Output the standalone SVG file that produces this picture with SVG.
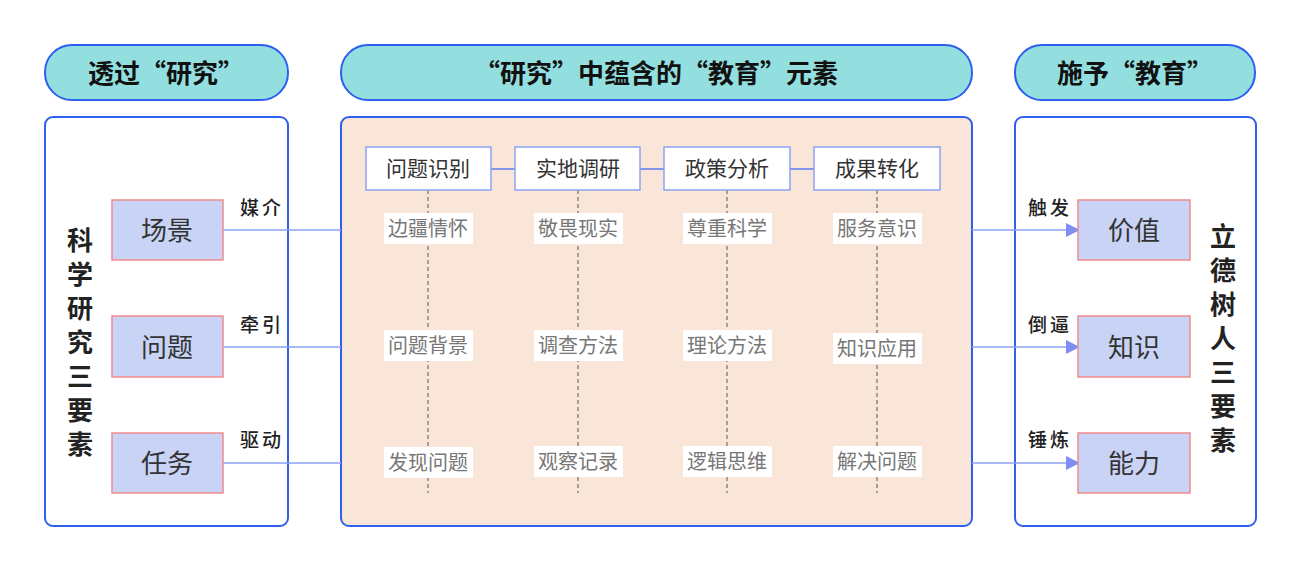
<svg xmlns="http://www.w3.org/2000/svg" width="1302" height="572" viewBox="0 0 1302 572">
<defs>
<style>
.hdr{fill:#93DFE0;stroke:#2F5FEF;stroke-width:2}
.panel{stroke:#2F5FEF;stroke-width:2}
.htxt{font-family:"Noto Sans CJK SC",sans-serif;font-weight:bold;font-size:26px;fill:#111;text-anchor:middle}
.node{fill:#C9D3F6;stroke:#F08C8C;stroke-width:1.5}
.ntxt{font-family:"Noto Sans CJK SC",sans-serif;font-size:26px;fill:#333;text-anchor:middle}
.top{fill:#fff;stroke:#8CA2F2;stroke-width:1.5}
.ttxt{font-family:"Noto Sans CJK SC",sans-serif;font-size:21px;fill:#333;text-anchor:middle}
.sub{font-family:"Noto Sans CJK SC",sans-serif;font-size:20px;fill:#777;text-anchor:middle}
.lbl{font-family:"Noto Sans CJK SC",sans-serif;font-weight:500;font-size:19px;fill:#222;text-anchor:middle;letter-spacing:3px}
.vtxt{font-family:"Noto Sans CJK SC",sans-serif;font-weight:bold;font-size:26px;fill:#222;writing-mode:vertical-rl;letter-spacing:8px}
.conn{stroke:#8DA0F5;stroke-width:1.5;fill:none}
.dash{stroke:#888;stroke-width:1.5;stroke-dasharray:4 3;fill:none}
</style>
<marker id="arr" viewBox="0 0 10 10" refX="10" refY="5" markerWidth="18" markerHeight="14" markerUnits="userSpaceOnUse" orient="auto">
<path d="M0,0 L10,5 L0,10 z" fill="#7F8EF2"/>
</marker>
</defs>
<rect width="1302" height="572" fill="#fff"/>

<g id="headers">
<rect class="hdr" x="45" y="45" width="243" height="55" rx="27"/>
<text class="htxt" x="166" y="83">透过“研究”</text>
<rect class="hdr" x="341" y="45" width="631" height="55" rx="27"/>
<text class="htxt" x="656" y="83">“研究”中蕴含的“教育”元素</text>
<rect class="hdr" x="1015" y="45" width="240" height="55" rx="27"/>
<text class="htxt" x="1135" y="83">施予“教育”</text>
</g>

<g id="panels">
<rect class="panel" x="45" y="117" width="243" height="409" rx="8" fill="#fff"/>
<rect class="panel" x="341" y="117" width="631" height="409" rx="8" fill="#FAE6D8"/>
<rect class="panel" x="1015" y="117" width="241" height="409" rx="8" fill="#fff"/>
</g>

<g id="connectors">
<line class="conn" x1="223" y1="230" x2="341" y2="230"/>
<line class="conn" x1="223" y1="347" x2="341" y2="347"/>
<line class="conn" x1="223" y1="463" x2="341" y2="463"/>
<line class="conn" x1="972" y1="230" x2="1080" y2="230" marker-end="url(#arr)"/>
<line class="conn" x1="972" y1="347" x2="1080" y2="347" marker-end="url(#arr)"/>
<line class="conn" x1="972" y1="463" x2="1080" y2="463" marker-end="url(#arr)"/>
<line x1="491" y1="169" x2="515" y2="169" stroke="#5B7BEF" stroke-width="1.5"/>
<line x1="640" y1="169" x2="664" y2="169" stroke="#5B7BEF" stroke-width="1.5"/>
<line x1="790" y1="169" x2="814" y2="169" stroke="#5B7BEF" stroke-width="1.5"/>
<line class="dash" x1="428" y1="190" x2="428" y2="493"/>
<line class="dash" x1="578" y1="190" x2="578" y2="493"/>
<line class="dash" x1="727" y1="190" x2="727" y2="493"/>
<line class="dash" x1="877" y1="190" x2="877" y2="493"/>
</g>

<g id="conn-labels">
<text class="lbl" x="262" y="215">媒介</text>
<text class="lbl" x="262" y="332">牵引</text>
<text class="lbl" x="262" y="447">驱动</text>
<text class="lbl" x="1050" y="215">触发</text>
<text class="lbl" x="1050" y="332">倒逼</text>
<text class="lbl" x="1050" y="447">锤炼</text>
</g>

<g id="left-title"><text class="vtxt" x="80" y="227">科学研究三要素</text></g>
<g id="right-title"><text class="vtxt" x="1223" y="223">立德树人三要素</text></g>

<g id="node-changjing"><rect class="node" x="112" y="200" width="111" height="60"/><text class="ntxt" x="167" y="240">场景</text></g>
<g id="node-wenti"><rect class="node" x="112" y="316" width="111" height="61"/><text class="ntxt" x="167" y="357">问题</text></g>
<g id="node-renwu"><rect class="node" x="112" y="433" width="111" height="60"/><text class="ntxt" x="167" y="473">任务</text></g>

<g id="node-jiazhi"><rect class="node" x="1078" y="200" width="112" height="60"/><text class="ntxt" x="1134" y="240">价值</text></g>
<g id="node-zhishi"><rect class="node" x="1078" y="316" width="112" height="61"/><text class="ntxt" x="1134" y="357">知识</text></g>
<g id="node-nengli"><rect class="node" x="1078" y="433" width="112" height="60"/><text class="ntxt" x="1134" y="473">能力</text></g>

<g id="top-1"><rect class="top" x="366" y="147" width="125" height="43"/><text class="ttxt" x="428" y="176">问题识别</text></g>
<g id="top-2"><rect class="top" x="515" y="147" width="125" height="43"/><text class="ttxt" x="578" y="176">实地调研</text></g>
<g id="top-3"><rect class="top" x="664" y="147" width="126" height="43"/><text class="ttxt" x="727" y="176">政策分析</text></g>
<g id="top-4"><rect class="top" x="814" y="147" width="126" height="43"/><text class="ttxt" x="877" y="176">成果转化</text></g>

<g id="subs">
<rect x="384" y="213" width="89" height="31" fill="#fff"/><text class="sub" x="428" y="236">边疆情怀</text>
<rect x="534" y="213" width="89" height="31" fill="#fff"/><text class="sub" x="578" y="236">敬畏现实</text>
<rect x="683" y="213" width="89" height="31" fill="#fff"/><text class="sub" x="727" y="236">尊重科学</text>
<rect x="833" y="213" width="89" height="31" fill="#fff"/><text class="sub" x="877" y="236">服务意识</text>
<rect x="384" y="330" width="89" height="31" fill="#fff"/><text class="sub" x="428" y="353">问题背景</text>
<rect x="534" y="330" width="89" height="31" fill="#fff"/><text class="sub" x="578" y="353">调查方法</text>
<rect x="683" y="330" width="89" height="31" fill="#fff"/><text class="sub" x="727" y="353">理论方法</text>
<rect x="833" y="333" width="89" height="31" fill="#fff"/><text class="sub" x="877" y="356">知识应用</text>
<rect x="384" y="447" width="89" height="31" fill="#fff"/><text class="sub" x="428" y="470">发现问题</text>
<rect x="534" y="446" width="89" height="31" fill="#fff"/><text class="sub" x="578" y="469">观察记录</text>
<rect x="683" y="446" width="89" height="31" fill="#fff"/><text class="sub" x="727" y="469">逻辑思维</text>
<rect x="833" y="446" width="89" height="31" fill="#fff"/><text class="sub" x="877" y="469">解决问题</text>
</g>
</svg>
